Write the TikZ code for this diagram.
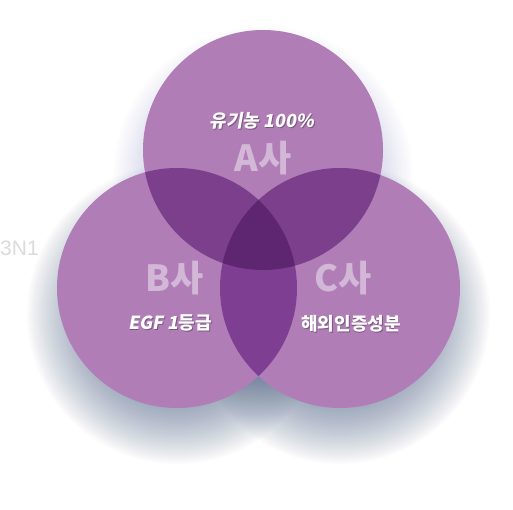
\documentclass[tikz,border=0pt]{standalone}
\usepackage{fontspec}
\setmainfont{Liberation Sans}
\newfontfamily\kr{Noto Sans CJK KR}
\newfontfamily\krit[FakeSlant=0.18]{Noto Sans CJK KR}
\definecolor{cone}{HTML}{B07DB7}
\definecolor{ctwo}{HTML}{7B3F8C}
\definecolor{cbc}{HTML}{7E3F93}
\definecolor{cthree}{HTML}{5E2570}
\definecolor{shadowc}{HTML}{405680}
\tikzset{
  biglabel/.style={text=white, text opacity=0.45, font=\kr\bfseries\fontsize{36}{36}\selectfont, inner sep=0pt},
  smalllabel/.style={text=white, font=\kr\bfseries\fontsize{18}{18}\selectfont, inner sep=0pt},
  shadowlabel/.style={text=black, text opacity=0.3, font=\kr\bfseries\fontsize{18}{18}\selectfont, inner sep=0pt},
}
\begin{document}
\begin{tikzpicture}[x=1pt,y=-1pt]
\useasboundingbox (0,0) rectangle (513,510);
\clip (0,0) rectangle (513,510);
\fill[white] (0,0) rectangle (513,510);
\node[text=black!14, font=\fontsize{21}{21}\selectfont, anchor=west, inner sep=0pt] (sn) at (0,248) {3N1};
\coordinate (A) at (263,150);
\coordinate (B) at (177,288);
\coordinate (C) at (340,288);
% shadows
\foreach \c/\o in {A/0.008,B/0.02,C/0.02}{
  \foreach \r in {92,94,...,150}{
    \fill[shadowc, opacity=\o] ([yshift=-26pt]\c) circle[radius=\r pt];
  }
}
% circles
\foreach \c in {A,B,C}{ \fill[cone] (\c) circle[radius=120pt]; }
\begin{scope}
  \clip (A) circle[radius=120pt];
  \fill[ctwo] (B) circle[radius=120pt];
  \fill[ctwo] (C) circle[radius=120pt];
\end{scope}
\begin{scope}
  \clip (B) circle[radius=120pt];
  \fill[cbc] (C) circle[radius=120pt];
\end{scope}
\begin{scope}
  \clip (A) circle[radius=120pt];
  \clip (B) circle[radius=120pt];
  \fill[cthree] (C) circle[radius=120pt];
\end{scope}
% labels
\node[biglabel] (la) at (263,158) {A사};
\node[biglabel] (lb) at (175,278) {B사};
\node[biglabel] (lc) at (343,278) {C사};
\node[shadowlabel] at (262.8,122.2) {{\krit 유기농 100\%}};
\node[smalllabel] (ta) at (262,121) {{\krit 유기농 100\%}};
\node[shadowlabel] at (170.8,324.2) {{\krit EGF 1}등급};
\node[smalllabel] (tb) at (170,323) {{\krit EGF 1}등급};
\node[shadowlabel] at (351.8,325.2) {해외인증성분};
\node[smalllabel] (tc) at (351,324) {해외인증성분};
\end{tikzpicture}
\end{document}
